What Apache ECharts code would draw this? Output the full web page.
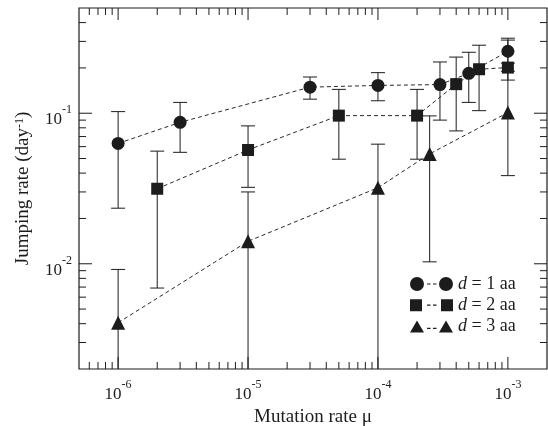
<!DOCTYPE html>
<html>
<head>
<meta charset="utf-8">
<script src="https://cdn.jsdelivr.net/npm/echarts@6/dist/echarts.min.js"></script>
<style>
  html, body { margin: 0; padding: 0; background: #fff; }
  #chart { width: 548px; height: 426px; }
</style>
</head>
<body>
<div id="chart"></div>
<script>
// data
const d1X  = [1e-6, 3e-6, 3e-5, 1e-4, 3e-4, 5e-4, 1e-3];
const d1Y  = [0.063, 0.087, 0.149, 0.153, 0.155, 0.184, 0.258];
const d1Lo = [0.0234, 0.055, 0.124, 0.121, 0.090, 0.118, 0.215];
const d1Hi = [0.1025, 0.118, 0.174, 0.186, 0.219, 0.254, 0.315];

const d2X  = [2e-6, 1e-5, 5e-5, 2e-4, 4e-4, 6e-4, 1e-3];
const d2Y  = [0.0315, 0.057, 0.0964, 0.0964, 0.156, 0.196, 0.201];
const d2Lo = [0.0069, 0.0322, 0.0495, 0.0495, 0.0763, 0.104, 0.166];
const d2Hi = [0.056, 0.0824, 0.144, 0.144, 0.236, 0.283, 0.306];

const d3X  = [1e-6, 1e-5, 1e-4, 2.5e-4, 1e-3];
const d3Y  = [0.00406, 0.0141, 0.032, 0.0537, 0.101];
const d3Lo = [0.001, 0.001, 0.001, 0.0103, 0.0385]; // 0.001 = runs off the bottom
const d3Hi = [0.00917, 0.030, 0.0623, 0.096, 0.19];

const names = ['d = 1 aa', 'd = 2 aa', 'd = 3 aa'];

// axis ranges and ticks
const X_MIN = 5e-7, X_MAX = 2e-3;
const Y_MIN = 2e-3, Y_MAX = 0.5;
const xMajor = [1e-6, 1e-5, 1e-4, 1e-3];
const xMinor = [6e-7, 7e-7, 8e-7, 9e-7,
  2e-6, 3e-6, 4e-6, 5e-6, 6e-6, 7e-6, 8e-6, 9e-6,
  2e-5, 3e-5, 4e-5, 5e-5, 6e-5, 7e-5, 8e-5, 9e-5,
  2e-4, 3e-4, 4e-4, 5e-4, 6e-4, 7e-4, 8e-4, 9e-4];
const yMajor = [1e-2, 1e-1];
const yMinor = [3e-3, 4e-3, 5e-3, 6e-3, 7e-3, 8e-3, 9e-3,
  2e-2, 3e-2, 4e-2, 5e-2, 6e-2, 7e-2, 8e-2, 9e-2,
  2e-1, 3e-1, 4e-1];

const INK = '#1c1c1c';
const FONT = '"Liberation Serif", "Times New Roman", serif';

const zip3 = (x, a, b) => x.map((v, i) => [v, a[i], b[i]]);
const zip2 = (x, a) => x.map((v, i) => [v, a[i]]);

function errBars(params, api) {
  const x = api.value(0);
  const lo = api.coord([x, api.value(1)]);
  const hi = api.coord([x, api.value(2)]);
  const w = 7;
  const st = { stroke: INK, lineWidth: 1 };
  return {
    type: 'group',
    children: [
      { type: 'line', shape: { x1: lo[0], y1: lo[1], x2: hi[0], y2: hi[1] }, style: st },
      { type: 'line', shape: { x1: hi[0] - w, y1: hi[1], x2: hi[0] + w, y2: hi[1] }, style: st },
      { type: 'line', shape: { x1: lo[0] - w, y1: lo[1], x2: lo[0] + w, y2: lo[1] }, style: st }
    ]
  };
}

// inward ticks on bottom + top
function xTicks(len) {
  return function (params, api) {
    const cs = params.coordSys;
    const p = api.coord([api.value(0), Y_MIN]);
    const st = { stroke: INK, lineWidth: 1 };
    return {
      type: 'group',
      children: [
        { type: 'line', shape: { x1: p[0], y1: cs.y + cs.height, x2: p[0], y2: cs.y + cs.height - len }, style: st },
        { type: 'line', shape: { x1: p[0], y1: cs.y, x2: p[0], y2: cs.y + len }, style: st }
      ]
    };
  };
}

// inward ticks on left + right
function yTicks(len) {
  return function (params, api) {
    const cs = params.coordSys;
    const p = api.coord([X_MIN, api.value(1)]);
    const st = { stroke: INK, lineWidth: 1 };
    return {
      type: 'group',
      children: [
        { type: 'line', shape: { x1: cs.x, y1: p[1], x2: cs.x + len, y2: p[1] }, style: st },
        { type: 'line', shape: { x1: cs.x + cs.width, y1: p[1], x2: cs.x + cs.width - len, y2: p[1] }, style: st }
      ]
    };
  };
}

function powLabel(v) {
  const e = Math.log10(v);
  const n = Math.round(e);
  if (Math.abs(e - n) > 1e-6) return '';
  return '{b|10}{s|' + n + '}';
}

const labelRich = {
  b: { fontSize: 17, lineHeight: 24, fontFamily: FONT, color: INK, verticalAlign: 'bottom' },
  s: { fontSize: 12, lineHeight: 12, fontFamily: FONT, color: INK, verticalAlign: 'top' }
};

const dash = ' M17,6.4 h3.5 v1.2 h-3.5 Z M23,6.4 h3.5 v1.2 h-3.5 Z';
const iconCircle = 'path://M0,7 A7,7 0 1,1 14,7 A7,7 0 1,1 0,7 Z M29,7 A7,7 0 1,1 43,7 A7,7 0 1,1 29,7 Z' + dash;
const iconRect = 'path://M0,1 h12 v12 h-12 Z M31,1 h12 v12 h-12 Z' + dash;
const iconTri = 'path://M0,13 L7,1 L14,13 Z M29,13 L36,1 L43,13 Z M17,8.4 h3.5 v1.2 h-3.5 Z M23,8.4 h3.5 v1.2 h-3.5 Z';

function lineSeries(name, data, symbol, size) {
  return {
    name: name, type: 'line', data: data, z: 5,
    symbol: symbol, symbolSize: size,
    itemStyle: { color: INK },
    lineStyle: { color: '#2a2a2a', width: 1, type: [4, 3] },
    emphasis: { disabled: true }
  };
}

function errSeries(data) {
  return {
    type: 'custom', renderItem: errBars, data: data, z: 3, clip: true,
    encode: { x: 0, y: [1, 2] }, silent: true
  };
}

const chart = echarts.init(document.getElementById('chart'));
chart.setOption({
  animation: false,
  backgroundColor: '#fff',
  grid: {
    left: 79, top: 8, right: 1, bottom: 57,
    outerBoundsMode: 'none', containLabel: false,
    show: true, borderColor: INK, borderWidth: 1.2, backgroundColor: 'transparent'
  },
  legend: {
    orient: 'vertical', left: 410, top: 275, padding: 0,
    itemWidth: 43, itemHeight: 14, itemGap: 3.2,
    selectedMode: false,
    data: [
      { name: names[0], icon: iconCircle },
      { name: names[1], icon: iconRect },
      { name: names[2], icon: iconTri }
    ],
    formatter: name => '{i|d}' + name.slice(1),
    textStyle: {
      fontSize: 18, fontFamily: FONT, color: INK,
      rich: { i: { fontStyle: 'italic', fontSize: 18, fontFamily: FONT, color: INK } }
    }
  },
  xAxis: {
    type: 'log', logBase: 10, min: X_MIN, max: X_MAX,
    name: 'Mutation rate μ', nameLocation: 'middle', nameGap: 32,
    nameTextStyle: { fontSize: 19, fontFamily: FONT, color: INK },
    axisLine: { show: false }, axisTick: { show: false }, splitLine: { show: false },
    axisLabel: { margin: 10, formatter: powLabel, rich: labelRich }
  },
  yAxis: {
    type: 'log', logBase: 10, min: Y_MIN, max: Y_MAX,
    name: 'Jumping rate (day{s|-1})', nameLocation: 'middle', nameGap: 46,
    nameTextStyle: {
      fontSize: 19, fontFamily: FONT, color: INK,
      rich: { s: { fontSize: 12, fontFamily: FONT, color: INK, verticalAlign: 'top', lineHeight: 12 } }
    },
    axisLine: { show: false }, axisTick: { show: false }, splitLine: { show: false },
    axisLabel: { margin: 7, padding: [6, 0, 0, 0], formatter: powLabel, rich: labelRich }
  },
  series: [
    { type: 'custom', renderItem: xTicks(12), data: xMajor.map(v => [v, Y_MIN]), clip: false, silent: true, z: 1 },
    { type: 'custom', renderItem: xTicks(7), data: xMinor.map(v => [v, Y_MIN]), clip: false, silent: true, z: 1 },
    { type: 'custom', renderItem: yTicks(13), data: yMajor.map(v => [X_MIN, v]), clip: false, silent: true, z: 1 },
    { type: 'custom', renderItem: yTicks(7), data: yMinor.map(v => [X_MIN, v]), clip: false, silent: true, z: 1 },
    errSeries(zip3(d1X, d1Lo, d1Hi)),
    errSeries(zip3(d2X, d2Lo, d2Hi)),
    errSeries(zip3(d3X, d3Lo, d3Hi)),
    lineSeries(names[0], zip2(d1X, d1Y), 'circle', 13),
    lineSeries(names[1], zip2(d2X, d2Y), 'rect', 12),
    lineSeries(names[2], zip2(d3X, d3Y), 'triangle', 14)
  ]
});
</script>
</body>
</html>
